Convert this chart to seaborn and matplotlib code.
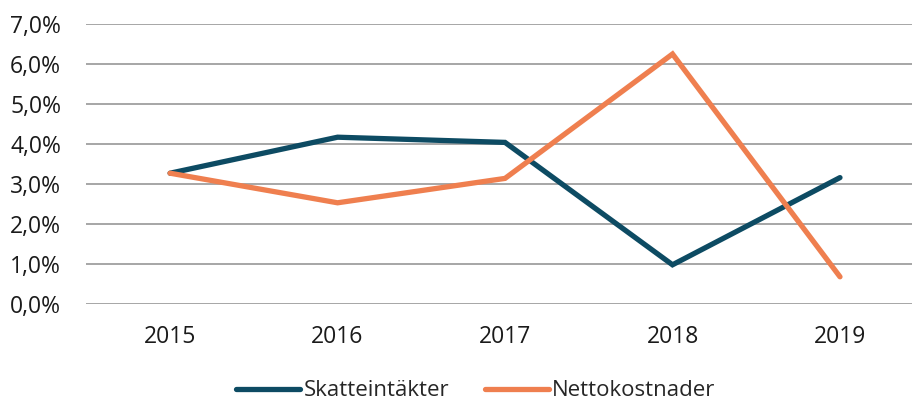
import matplotlib
matplotlib.use("Agg")
import matplotlib.pyplot as plt
import matplotlib.ticker as mticker
import seaborn as sns
import pandas as pd

years = ["2015", "2016", "2017", "2018", "2019"]
skatteintakter = [3.27, 4.17, 4.04, 0.98, 3.16]
nettokostnader = [3.27, 2.53, 3.14, 6.25, 0.68]
series_names = ["Skatteintäkter", "Nettokostnader"]
colors = ["#0d4b63", "#ef7f4f"]

df = pd.DataFrame({
    "År": years * 2,
    "Värde": skatteintakter + nettokostnader,
    "Serie": [series_names[0]] * len(years) + [series_names[1]] * len(years),
})

sns.set_theme(style="white")
plt.rcParams["font.family"] = ["Open Sans", "DejaVu Sans"]

fig = plt.figure(figsize=(9.13, 4.04), dpi=100)
ax = fig.add_axes([86 / 913, 1 - 304 / 404, (912 - 86) / 913, 280 / 404])

sns.lineplot(data=df, x="År", y="Värde", hue="Serie", palette=colors,
             linewidth=3.8, ax=ax, sort=False, legend=False,
             solid_capstyle="round", solid_joinstyle="miter")

ax.set_ylim(0, 7)
ax.set_xlim(-0.502, 4.43)
ax.yaxis.set_major_locator(mticker.MultipleLocator(1))
ax.yaxis.set_major_formatter(mticker.FuncFormatter(lambda v, p: f"{v:.1f}%".replace(".", ",")))
ax.grid(axis="y", color="#a6a6a6", linewidth=1.4)
ax.set_axisbelow(True)
for s in ax.spines.values():
    s.set_visible(False)
ax.set_xlabel("")
ax.set_ylabel("")
ax.tick_params(axis="both", length=0, labelsize=16.5, colors="#1a1a1a")
ax.tick_params(axis="y", pad=18)
ax.tick_params(axis="x", pad=15)

handles = [plt.Line2D([], [], color=c, linewidth=3.8, solid_capstyle="round") for c in colors]
fig.legend(handles, series_names, loc="center", bbox_to_anchor=(0.521, 1 - 391 / 404),
           ncol=2, frameon=False, fontsize=16, handlelength=2.9, handletextpad=0.15,
           columnspacing=1.6)

fig.savefig("out.png", dpi=100)
